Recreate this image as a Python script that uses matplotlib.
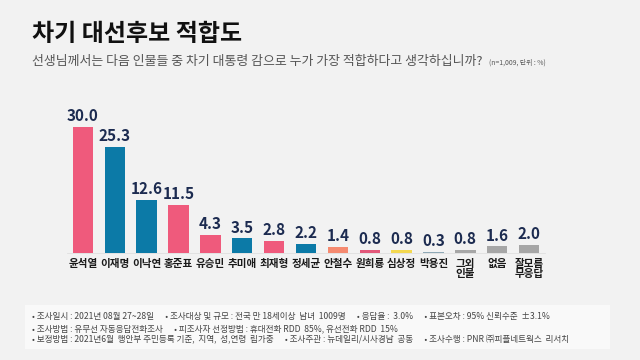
import matplotlib
matplotlib.use("Agg")
import matplotlib.pyplot as plt
from matplotlib.patches import Rectangle

plt.rcParams['font.family'] = ['Noto Sans CJK KR', 'DejaVu Sans']

# data
candidates = ["윤석열", "이재명", "이낙연", "홍준표", "유승민", "추미애", "최재형", "정세균",
              "안철수", "원희룡", "심상정", "박용진", "그외\n인물", "없음", "잘모름\n무응답"]
values = [30.0, 25.3, 12.6, 11.5, 4.3, 3.5, 2.8, 2.2, 1.4, 0.8, 0.8, 0.3, 0.8, 1.6, 2.0]
colors = ["#ef5a7c", "#0c7aa7", "#0c7aa7", "#ef5a7c", "#ef5a7c", "#0c7aa7", "#ef5a7c", "#0c7aa7",
          "#f58a70", "#e2587a", "#f3d850", "#8ea8b6", "#a6a6a6", "#a6a6a6", "#a6a6a6"]

title = "차기 대선후보 적합도"
subtitle = "선생님께서는 다음 인물들 중 차기 대통령 감으로 누가 가장 적합하다고 생각하십니까?"
note = "(n=1,009, 단위 : %)"
footer = [
    "• 조사일시 : 2021년 08월 27~28일      • 조사대상 및 규모 : 전국 만 18세이상  남녀  1009명      • 응답율 :  3.0%      • 표본오차 : 95% 신뢰수준  ±3.1%",
    "• 조사방법 : 유무선 자동응답전화조사      • 피조사자 선정방법 : 휴대전화 RDD  85%, 유선전화 RDD  15%",
    "• 보정방법 : 2021년6월  행안부 주민등록 기준,  지역,  성,연령  림가중      • 조사주관 : 뉴데일리/시사경남  공동      • 조사수행 : PNR ㈜피플네트웍스  리서치",
]

bg = "#f2f2f2"
fig = plt.figure(figsize=(6.4, 3.6), dpi=100, facecolor=bg)

# titles
fig.text(32 / 640, 1 - 34 / 360, title, fontsize=17.3, fontweight="bold", color="#111111",
         va="center", ha="left")
fig.text(32 / 640, 1 - 62 / 360, subtitle, fontsize=9.3, color="#555555", va="center", ha="left")
fig.text(489 / 640, 1 - 63 / 360, note, fontsize=4.9, color="#555555", va="center", ha="left")

# bar chart
ax = fig.add_axes([67 / 640, 107 / 360, 478 / 640, 147 / 360])
ax.set_facecolor(bg)
x = list(range(len(candidates)))
bars = ax.bar(x, values, width=0.64, color=colors)
for xi, v in zip(x, values):
    ax.annotate(f"{v:.1f}", (xi, v), xytext=(0, 2), textcoords="offset points",
                ha="center", va="bottom", fontsize=11, fontweight="bold", color="#1c2b50")
ax.set_xlim(-0.5, len(candidates) - 0.5)
ax.set_ylim(0, 35)
ax.set_xticks(x)
ax.set_xticklabels(candidates, fontsize=7.6, fontweight="bold", color="#1a1a1a", linespacing=1.05)
ax.tick_params(axis="x", length=0, pad=4)
ax.set_yticks([])
for s in ["top", "right", "left"]:
    ax.spines[s].set_visible(False)
ax.spines["bottom"].set_color("#e0e0e0")
ax.spines["bottom"].set_linewidth(0.6)

# footer box
fig.patches.append(Rectangle((25 / 640, 1 - 349 / 360), 585 / 640, 44 / 360,
                             transform=fig.transFigure, facecolor="#f9f9f9", edgecolor="none"))
for i, line in enumerate(footer):
    fig.text(32 / 640, 1 - (317 + i * 11.5) / 360, line, fontsize=6.2, color="#444444",
             va="center", ha="left")

fig.savefig("out.png", dpi=100, facecolor=bg)
